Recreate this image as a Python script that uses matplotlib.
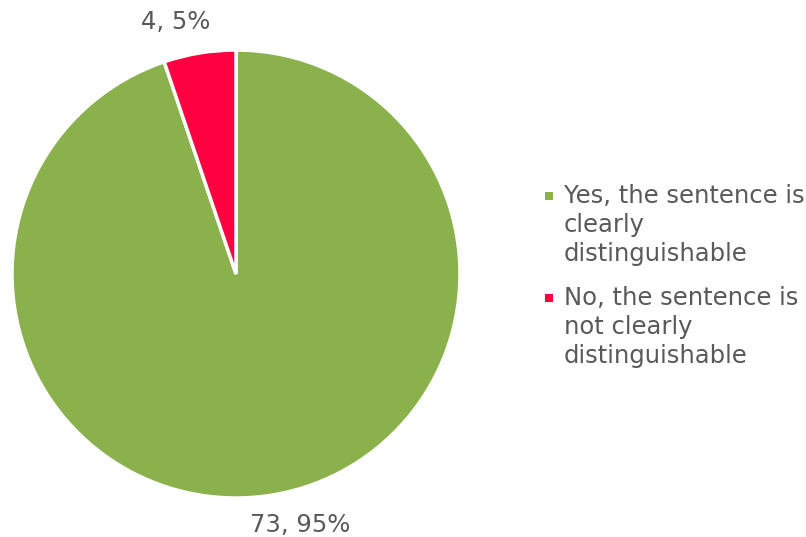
import matplotlib.pyplot as plt
from matplotlib.patches import Rectangle, Wedge
from matplotlib.legend_handler import HandlerPatch

# survey answers
labels = ["Yes, the sentence is\nclearly\ndistinguishable",
          "No, the sentence is\nnot clearly\ndistinguishable"]
counts = [73, 4]
colors = ["#8ab14b", "#ff0040"]

total = sum(counts)
text_color = "#595959"
fs = 17.5

fig = plt.figure(figsize=(8.06, 5.37), dpi=100)
ax = fig.add_axes([12 / 806, 39 / 537, 448 / 806, 448 / 537])

wedges, _ = ax.pie(counts, colors=colors, startangle=90, counterclock=False,
                   radius=1, wedgeprops=dict(edgecolor="white", linewidth=2.5))
ax.set_xlim(-1, 1)
ax.set_ylim(-1, 1)
ax.set_aspect("equal")

# data labels (count, percent)
label_pos = [(0.285, -1.12), (-0.27, 1.125)]
for c, (x, y) in zip(counts, label_pos):
    ax.text(x, y, f"{c}, {round(100 * c / total)}%", ha="center", va="center",
            fontsize=fs, color=text_color, clip_on=False)


# small square marker sitting next to the first line of a wrapped label
def top_square(legend, orig_handle, xdescent, ydescent, width, height, fontsize):
    line_h = fontsize * 1.25
    return Rectangle((-xdescent, -ydescent + height - line_h / 2 - width / 2 + 11),
                     width, width)


leg = fig.legend(wedges, labels, loc="upper left", bbox_to_anchor=(0.676, 0.657),
                 frameon=False, fontsize=fs, labelcolor=text_color,
                 handlelength=0.33, handleheight=3.6, handletextpad=0.45,
                 labelspacing=0.84, borderpad=0, borderaxespad=0,
                 handler_map={Wedge: HandlerPatch(patch_func=top_square)})
for t in leg.get_texts():
    t.set_linespacing(1.25)
for h in leg.legend_handles:
    h.set_edgecolor("none")

fig.savefig("out.png", dpi=100)
